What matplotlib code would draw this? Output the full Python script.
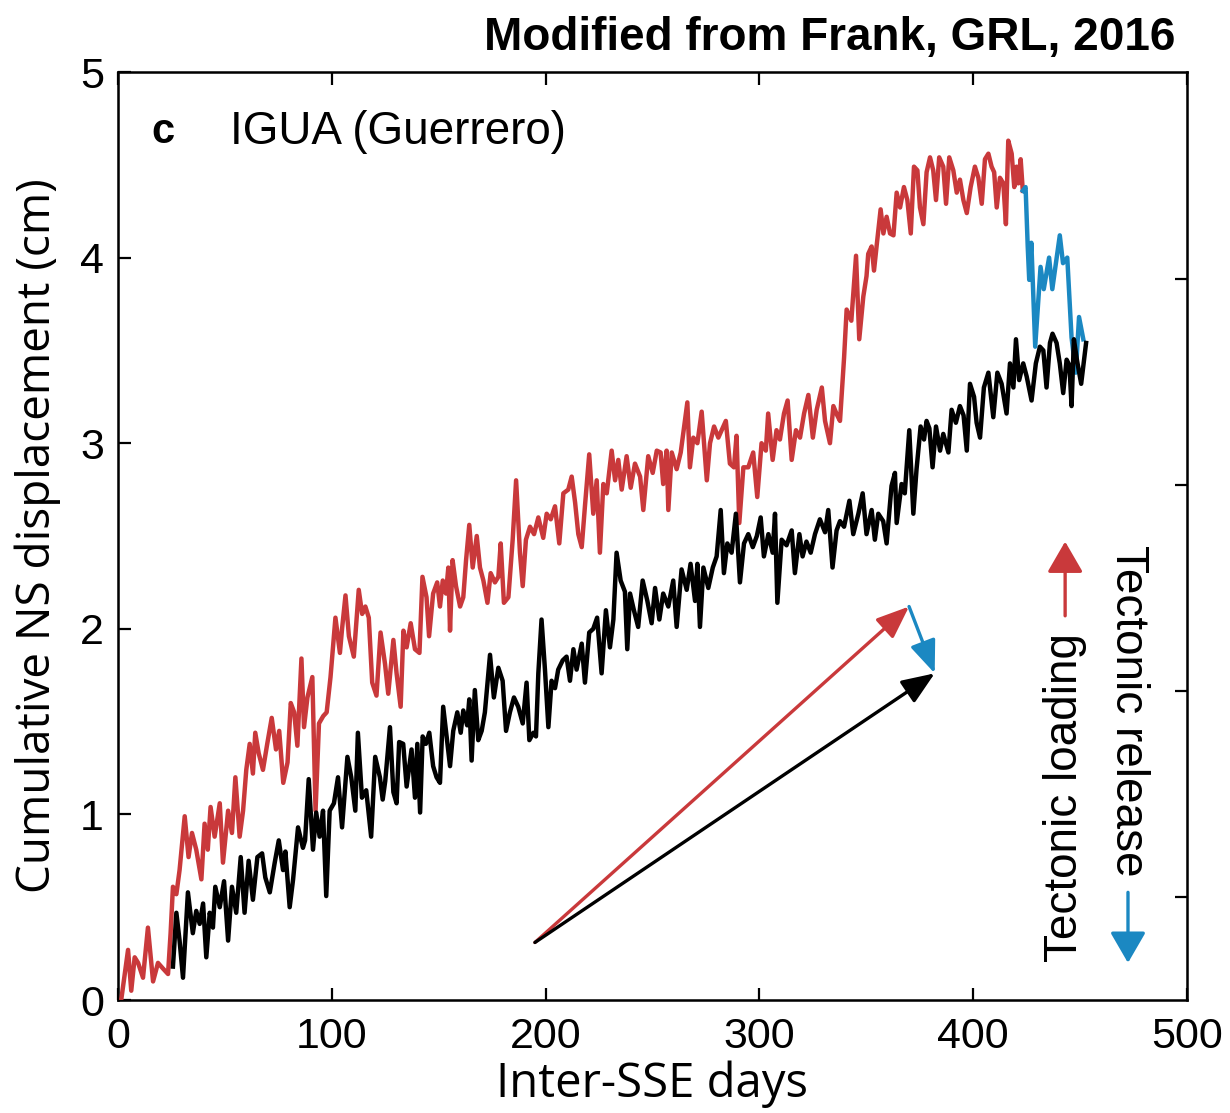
import matplotlib
matplotlib.use("Agg")
import matplotlib.pyplot as plt

# ---------------- data ----------------
red_day = [0, 1.5, 4.7, 6.2, 7.8, 9.4, 11.7, 14, 16.4, 18.7, 21, 23.4, 24.6, 25.7, 27.3, 28.8,
           31.2, 33, 34.6, 36.6, 39, 40.5, 42, 43.3, 45.2, 47.6, 49.1, 51.5, 53.3, 54.9, 56.9,
           58.5, 60, 61.6, 63.1, 64.2, 65.8, 67.8, 69.8, 71.9, 73.9, 75.4, 77.3, 79.3, 80.8,
           82.4, 83.9, 85.8, 87, 88.6, 90.9, 92.4, 94, 96, 97.6, 99.4, 101.7, 103.8, 104.8,
           106.4, 108, 110.3, 112.6, 114.2, 115.7, 117.3, 118.9, 120.9, 122.8, 124.9, 126.4,
           128.8, 130.3, 132.2, 133.5, 135, 136.9, 138.9, 141, 142.4, 144.3, 145.5, 147.4,
           149.3, 150.6, 151.9, 153.4, 154.5, 155.3, 156.5, 158.1, 160, 161.5, 162.8, 164.3,
           165.9, 167.8, 169.3, 170.9, 172.8, 174.3, 176.3, 177.9, 179, 180.5, 182.6, 184.6,
           186.2, 188, 189.3, 190.8, 192.7, 194.6, 196.6, 198.9, 200.5, 202.4, 204.4, 206.4,
           208.3, 210.6, 212.2, 213.8, 215.3, 216.9, 218.4, 220.4, 222.3, 223.9, 225.4, 227,
           228.6, 230.9, 232.5, 234, 235.6, 237.9, 239.8, 241.8, 244.2, 245.7, 248, 250.1,
           252, 253.8, 255, 256.6, 257.4, 259, 261.3, 263.2, 266.3, 267.5, 269.1, 271, 273,
           275.4, 276.9, 278.8, 280.8, 284.3, 286.2, 288.1, 289.3, 290.6, 292.5, 294.8, 297.1,
           299, 301, 303, 304.1, 306.2, 308, 309.6, 311.5, 313.2, 315.1, 317.1, 319, 320.9,
           322.9, 325, 326.8, 329.2, 330.7, 333, 334.6, 336.4, 337.7, 339.6, 340.8, 343,
           345.2, 346.7, 348.6, 350.1, 350.9, 352.5, 353.6, 354.8, 356.7, 358, 359.5, 361.1,
           362.7, 364.2, 365.8, 367.6, 369.2, 370.8, 372.3, 373.9, 375.1, 376.7, 378.2, 379.8,
           381.3, 382.6, 384.1, 386, 387.3, 388.8, 390.7, 392.3, 393.8, 395.4, 397, 398.8,
           400.8, 402.4, 404, 405.5, 407.1, 408.6, 409.8, 411, 412.5, 414.1, 415.3, 416.4,
           418, 419.2, 420.3, 421.1, 422.2, 423.2]
red_val = [0, 0.0, 0.27, 0.05, 0.23, 0.2, 0.12, 0.39, 0.1, 0.2, 0.17, 0.14, 0.36, 0.61, 0.57, 0.70,
           0.99, 0.77, 0.9, 0.81, 0.65, 0.95, 0.81, 1.04, 0.88, 1.06, 0.74, 1.02, 0.9, 1.2, 0.88,
           1.02, 1.24, 1.38, 1.22, 1.44, 1.33, 1.24, 1.38, 1.52, 1.35, 1.45, 1.17, 1.28, 1.6,
           1.55, 1.37, 1.84, 1.47, 1.63, 1.74, 1.02, 1.49, 1.53, 1.55, 1.74, 2.06, 1.87, 2.0,
           2.18, 1.96, 1.85, 2.21, 2.08, 2.12, 2.06, 1.71, 1.64, 1.98, 1.81, 1.65,
           1.94, 1.76, 1.58, 1.99, 1.9, 2.03, 1.89, 1.87, 2.28, 2.17, 1.96, 2.19,
           2.25, 2.12, 2.26, 2.19, 2.33, 1.99, 2.37, 2.23, 2.12, 2.17, 2.37, 2.56,
           2.33, 2.5, 2.33, 2.26, 2.14, 2.3, 2.25, 2.28, 2.46, 2.14, 2.17, 2.48,
           2.8, 2.41, 2.23, 2.48, 2.55, 2.51, 2.6, 2.49, 2.62, 2.59, 2.66, 2.46,
           2.73, 2.75, 2.82, 2.68, 2.51, 2.44, 2.66, 2.94, 2.62, 2.8, 2.41, 2.78,
           2.73, 2.96, 2.8, 2.91, 2.75, 2.93, 2.76, 2.89, 2.82, 2.64, 2.93, 2.84,
           2.96, 2.95, 2.78, 2.96, 2.64, 2.95, 2.86, 2.95, 3.22, 2.87, 3.03, 3.0, 3.17,
           2.8, 3.0, 3.09, 3.03, 3.12, 2.89, 2.87, 3.04, 2.57, 2.87, 2.87, 2.95,
           2.71, 3.0, 2.96, 3.16, 2.91, 3.07, 3.02, 3.16, 3.23, 2.91, 3.07, 3.03, 3.16,
           3.26, 3.03, 3.18, 3.3, 3.12, 3.0, 3.2, 3.15, 3.12, 3.46, 3.72, 3.66,
           4.01, 3.56, 3.79, 3.9, 4.02, 4.06, 3.93, 4.06, 4.26, 4.13, 4.22, 4.13,
           4.12, 4.35, 4.27, 4.38, 4.31, 4.13, 4.49, 4.47, 4.27, 4.18, 4.46, 4.54,
           4.47, 4.31, 4.54, 4.49, 4.29, 4.54, 4.47, 4.35, 4.42, 4.31, 4.24, 4.38,
           4.49, 4.43, 4.29, 4.53, 4.56, 4.49, 4.46, 4.27, 4.43, 4.4, 4.18, 4.63,
           4.56, 4.38, 4.49, 4.4, 4.53, 4.36]

blue_day = [423.2, 424.5, 425.5, 426.2, 427.2, 429, 431.5, 433, 435.5, 437, 440.5, 442,
            444, 446, 448, 449.5, 451.5]
blue_val = [4.36, 4.38, 4.06, 3.88, 4.08, 3.52, 3.95, 3.83, 4.0, 3.83, 4.12, 3.97,
            4.0, 3.57, 3.38, 3.68, 3.56]

black_day = [25.7, 27.3, 28.8, 30.4, 32.7, 35, 36.6, 38.2, 39.8, 41.3, 42.9, 44.4, 45.5, 47.6,
             49.6, 51.5, 53.3, 55.3, 57.4, 59.2, 61.1, 63.1, 65.2, 67.4, 68.9, 71, 73.3, 75.2,
             77.2, 78.3, 80.3, 81.9, 84.2, 86.5, 87.5, 89.2, 91.2, 92.7, 94.3, 95.9, 97.4, 99,
             101, 102.9, 104.8, 107.3, 109.1, 111, 112.2, 114.1, 116.1, 118.4, 120.3, 122.5,
             123.8, 125, 127.2, 128.8, 130.3, 131.5, 133.4, 135, 137.3, 138.9, 140, 141.3,
             142.5, 144, 145.6, 147.4, 149, 150.6, 152.1, 153.7, 155.3, 156.8, 158.7, 160.3,
             161.5, 163.3, 164.3, 165.4, 166.9, 168.5, 170.1, 171.6, 174, 175.8, 177.9, 179.9,
             181.5, 183.3, 185.2, 187.2, 189.3, 191.1, 192.4, 194.3, 195.5, 196.6, 198.1,
             199.7, 201.3, 202.8, 204.4, 205.9, 208, 209.8, 211.4, 213, 214.5, 216.9, 218.4,
             220.4, 222.3, 224.1, 226.2, 228.2, 230.1, 231.7, 233.2, 235.1, 237.1, 238.2,
             239.5, 241.3, 243.3, 245.4, 247.6, 249.6, 251.2, 253.2, 255, 257.4, 259.7, 261.3,
             263.6, 266, 267.8, 269.9, 271, 272.2, 273.8, 276.1, 278.2, 280, 281.9, 283.4, 285,
             287, 289, 290.9, 292.8, 294.8, 296.9, 298.8, 300.6, 302.1, 304.2, 306.2, 307.3,
             308.4, 310.4, 312.7, 315.1, 316.6, 318.7, 320.2, 322, 324, 326, 328.3, 330.7,
             332.2, 334.2, 336.1, 337.7, 339.6, 342.1, 343.9, 346.3, 348.3, 350.1, 352.5, 354,
             355.6, 357.9, 359.5, 361.8, 363.4, 364.2, 366.5, 368, 370.1, 372, 373.5, 375.4,
             377, 378.2, 379.5, 381, 382.6, 384.5, 386, 388.4, 389.9, 391.9, 393.8, 395.5, 397,
             398.5, 400.4, 401.6, 403.2, 405, 407.1, 409.4, 411.3, 413.3, 415.6, 417.2, 418.8,
             420, 421.5, 423.4, 425, 427.3, 429.3, 431.2, 432.8, 434.3, 435.9, 437.1, 439,
             440.5, 442.1, 443.7, 445, 446, 447.1, 448.5, 450.5, 452.8]
black_val = [0.18, 0.47, 0.32, 0.12, 0.58, 0.36, 0.48, 0.41, 0.52, 0.23, 0.47, 0.39, 0.61, 0.5,
             0.64, 0.32, 0.61, 0.47, 0.77, 0.47, 0.75, 0.54, 0.77, 0.79, 0.66, 0.58, 0.74, 0.86,
             0.7, 0.8, 0.5, 0.65, 0.93, 0.82, 0.86, 1.19, 0.81, 1.01, 0.88, 1.02, 0.56, 1.02,
             1.06, 1.2, 0.93, 1.31, 1.2, 1.02, 1.44, 1.09, 1.13, 0.88, 1.31, 1.2,
             1.08, 1.18, 1.47, 1.12, 1.06, 1.39, 1.38, 1.15, 1.35, 1.09, 1.38, 1.01,
             1.42, 1.38, 1.44, 1.26, 1.2, 1.17, 1.58, 1.42, 1.26, 1.45, 1.55, 1.44,
             1.56, 1.48, 1.62, 1.29, 1.67, 1.4, 1.45, 1.55, 1.86, 1.63, 1.79, 1.72,
             1.45, 1.55, 1.63, 1.58, 1.49, 1.71, 1.4, 1.44, 1.42, 1.76, 2.05,
             1.78, 1.47, 1.72, 1.68, 1.78, 1.83, 1.85, 1.72, 1.89, 1.78, 1.92, 1.71,
             1.98, 2.0, 2.06, 1.76, 2.1, 1.9, 2.05, 2.41, 2.26, 2.2, 1.89,
             2.19, 2.1, 2.01, 2.26, 2.15, 2.03, 2.22, 2.05, 2.19, 2.12, 2.26, 2.01,
             2.32, 2.21, 2.35, 2.15, 2.35, 2.01, 2.33, 2.22, 2.33, 2.39, 2.64, 2.3, 2.46,
             2.41, 2.62, 2.25, 2.46, 2.51, 2.44, 2.5, 2.6, 2.39, 2.51, 2.41, 2.62,
             2.14, 2.48, 2.45, 2.53, 2.3, 2.51, 2.39, 2.47, 2.41, 2.51, 2.59, 2.52,
             2.64, 2.33, 2.53, 2.58, 2.55, 2.69, 2.51, 2.62, 2.73, 2.51, 2.64, 2.48,
             2.62, 2.58, 2.46, 2.77, 2.84, 2.57, 2.78, 2.73, 3.07, 2.62, 2.86, 3.09,
             3.02, 3.12, 3.08, 2.87, 3.09, 2.96, 3.05, 2.95, 3.18, 3.11, 3.2, 3.15, 2.96,
             3.32, 3.25, 3.11, 3.03, 3.3, 3.38, 3.14, 3.38, 3.32, 3.16, 3.43, 3.3,
             3.56, 3.34, 3.43, 3.36, 3.23, 3.43, 3.52, 3.5, 3.3, 3.54, 3.59, 3.54,
             3.43, 3.27, 3.45, 3.42, 3.2, 3.56, 3.45, 3.32, 3.54]

# schematic vectors (start, loading end, net end)
vec_start = (195, 0.31)
vec_load_end = (370, 2.12)
vec_net_end = (382, 1.76)

x_ticks = [0, 100, 200, 300, 400, 500]
y_ticks = [0, 1, 2, 3, 4, 5]
right_ticks = [0.555, 1.665, 2.775, 3.885]

RED = "#c9393b"
BLUE = "#1b88c2"
BLACK = "#000000"

plt.rcParams["font.family"] = ["Liberation Sans", "DejaVu Sans"]

fig = plt.figure(figsize=(12.3, 11.13), dpi=100)
ax = fig.add_axes([118 / 1230, 113 / 1113, (1187 - 118) / 1230, (1000 - 72) / 1113])

ax.plot(red_day, red_val, color=RED, lw=3.2, zorder=3)
ax.plot(blue_day, blue_val, color=BLUE, lw=3.2, zorder=3)
ax.plot(black_day, black_val, color=BLACK, lw=3.2, zorder=4)

vec_kw = dict(arrowstyle="-|>,head_length=1.0,head_width=0.4", lw=2.4,
              shrinkA=0, shrinkB=0, mutation_scale=20)
ax.annotate("", xy=vec_load_end, xytext=vec_start,
            arrowprops=dict(color=RED, **vec_kw), zorder=5)
ax.annotate("", xy=vec_net_end, xytext=vec_start,
            arrowprops=dict(color=BLACK, **vec_kw), zorder=5)
ax.annotate("", xy=vec_net_end, xytext=vec_load_end,
            arrowprops=dict(color=BLUE, **vec_kw), zorder=5)

# legend-like arrows and text
leg_kw = dict(arrowstyle="-|>,head_length=0.95,head_width=0.55", lw=2.4,
              shrinkA=0, shrinkB=0, mutation_scale=20)
ax.annotate("", xy=(443, 2.47), xytext=(443, 2.07),
            arrowprops=dict(color=RED, **leg_kw))
ax.annotate("", xy=(472.4, 0.2), xytext=(472.4, 0.58),
            arrowprops=dict(color=BLUE, **leg_kw))
ax.text(443, 1.09, "Tectonic loading", rotation=90, ha="center", va="center",
        fontsize=33)
ax.text(472.4, 1.56, "Tectonic release", rotation=-90, ha="center", va="center",
        fontsize=33)

ax.text(0.042, 0.935, "c", transform=ax.transAxes, fontsize=30, fontweight="bold",
        ha="center", va="center")
ax.text(0.105, 0.935, "IGUA (Guerrero)", transform=ax.transAxes, fontsize=33,
        ha="left", va="center")

ax.set_xlim(0, 500)
ax.set_ylim(0, 5)
ax.set_xticks(x_ticks)
ax.set_yticks(y_ticks)
ax.tick_params(direction="in", length=9, width=1.6, labelsize=31, top=True,
               pad=12)
ax.tick_params(axis="y", pad=10)
for s in ax.spines.values():
    s.set_linewidth(1.8)

ax2 = ax.twinx()
ax2.set_ylim(0, 5)
ax2.set_yticks(right_ticks)
ax2.tick_params(direction="in", length=9, width=1.6, labelright=False)

ax.set_xlabel("Inter-SSE days", fontsize=34, family=["Open Sans", "DejaVu Sans"],
              labelpad=3)
ax.set_ylabel("Cumulative NS displacement (cm)", fontsize=33,
              family=["Open Sans", "DejaVu Sans"], labelpad=14)

fig.text(1175 / 1230, 1 - 38 / 1113, "Modified from Frank, GRL, 2016",
         family=["Liberation Sans Narrow", "Liberation Sans"], fontweight="bold",
         fontsize=33, ha="right", va="center")

fig.savefig("out.png", dpi=100)
